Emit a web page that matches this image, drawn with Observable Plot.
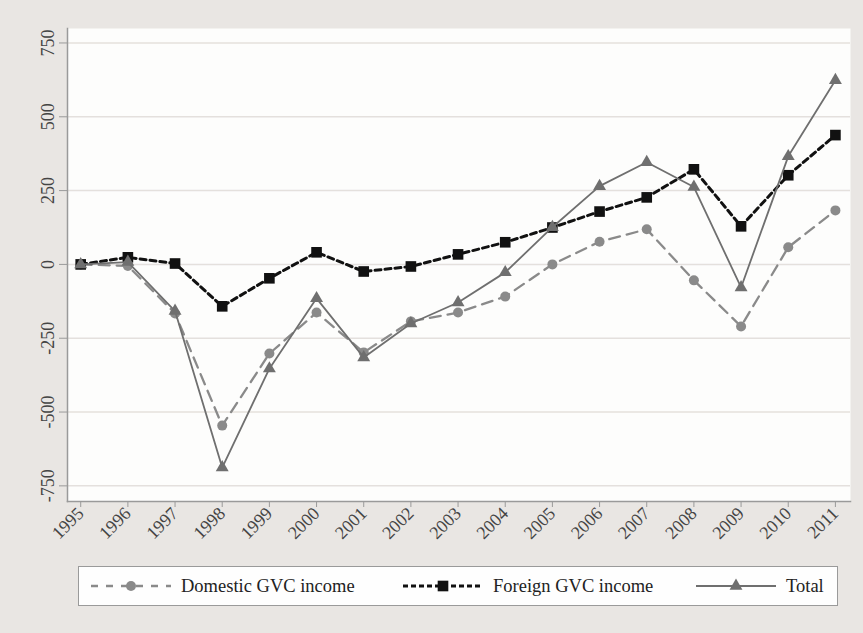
<!DOCTYPE html>
<html><head><meta charset="utf-8">
<script src="https://cdn.jsdelivr.net/npm/d3@7"></script>
<script src="https://cdn.jsdelivr.net/npm/@observablehq/plot@0.6"></script>
<style>
html,body{margin:0;padding:0;background:#e9e6e3;}
#wrap{position:relative;width:863px;height:633px;overflow:hidden;}
#wrap > svg text{font-size:18px;}
#legend{position:absolute;left:78px;top:566px;width:760px;height:40px;background:#fefefe;border:1px solid #9a9a9a;box-sizing:border-box;font-family:"Liberation Serif",serif;font-size:18.5px;color:#222;}
#legend .item{position:absolute;top:0;height:38px;display:flex;align-items:center;}
#legend svg{display:block;}
#legend span{margin-left:10px;white-space:nowrap;}
</style></head><body><div id="wrap"></div>
<script>
const years = [1995,1996,1997,1998,1999,2000,2001,2002,2003,2004,2005,2006,2007,2008,2009,2010,2011];
const domestic = [0,-5,-166,-546,-302,-163,-298,-193,-163,-109,0,77,119,-54,-210,58,183];
const foreign = [0,24,3,-142,-47,41,-24,-7,34,75,125,179,227,322,129,302,438];
const total = [0,8,-158,-688,-353,-115,-315,-200,-129,-27,126,265,346,262,-78,366,624];
const yTicks = [-750,-500,-250,0,250,500,750];
const seriesNames = ["Domestic GVC income","Foreign GVC income","Total"];

const rows = years.map((y,i)=>({year:y, domestic:domestic[i], foreign:foreign[i], total:total[i]}));
const cDom = "#8a8a8a", cFor = "#111111", cTot = "#6f6f6f";

const chart = Plot.plot({
  width: 863, height: 562,
  marginLeft: 67, marginRight: 13, marginTop: 28, marginBottom: 61,
  style: {fontFamily: "'Liberation Serif', serif", fontSize: "18px", background: "transparent", color: "#444"},
  x: {domain: [1994.72, 2011.32], label: null},
  y: {domain: [-803, 799], label: null},
  marks: [
    Plot.frame({fill: "#fdfdfc", stroke: null}),
    Plot.gridY(yTicks, {stroke: "#e4e0dd", strokeOpacity: 1, strokeWidth: 1.5}),
    Plot.frame({anchor: "left", stroke: "#9a9a9a", strokeWidth: 1.5}),
    Plot.frame({anchor: "bottom", stroke: "#9a9a9a", strokeWidth: 1.5}),
    Plot.axisY(yTicks, {tickSize: 8, tickPadding: 6, tickRotate: -90, stroke: "#9a9a9a", fill: "#444", fontSize: 18, tickFormat: d => String(d)}),
    Plot.axisX(years, {tickSize: 6, tickPadding: 3, tickRotate: -45, stroke: "#9a9a9a", fill: "#444", fontSize: 18, tickFormat: d => String(d)}),
    Plot.line(rows, {x: "year", y: "domestic", stroke: cDom, strokeWidth: 2.3, strokeDasharray: "11,7"}),
    Plot.dot(rows, {x: "year", y: "domestic", symbol: "circle", r: 5, fill: cDom}),
    Plot.line(rows, {x: "year", y: "foreign", stroke: cFor, strokeWidth: 3, strokeDasharray: "6,4"}),
    Plot.dot(rows, {x: "year", y: "foreign", symbol: "square", r: 6, fill: cFor}),
    Plot.line(rows, {x: "year", y: "total", stroke: cTot, strokeWidth: 1.8}),
    Plot.dot(rows, {x: "year", y: "total", symbol: "triangle", r: 4.8, fill: cTot})
  ]
});
const wrap = document.getElementById("wrap");
wrap.appendChild(chart);

// legend
const legend = document.createElement("div");
legend.id = "legend";
const items = [
  {name: seriesNames[0], left: 12, color: cDom, dash: "7,8", w: 2.3, sym: "circle"},
  {name: seriesNames[1], left: 324, color: cFor, dash: "5,3", w: 3, sym: "square"},
  {name: seriesNames[2], left: 617, color: cTot, dash: null, w: 1.8, sym: "triangle"}
];
for (const it of items) {
  const d = document.createElement("div");
  d.className = "item";
  d.style.left = it.left + "px";
  const s = d3.create("svg").attr("width", 80).attr("height", 20);
  s.append("line").attr("x1", 0).attr("x2", 80).attr("y1", 10).attr("y2", 10)
    .attr("stroke", it.color).attr("stroke-width", it.w).attr("stroke-dasharray", it.dash);
  const symType = it.sym === "circle" ? d3.symbolCircle : it.sym === "square" ? d3.symbolSquare : d3.symbolTriangle;
  const size = it.sym === "circle" ? Math.PI*25 : it.sym === "square" ? Math.PI*36 : Math.PI*4.8*4.8;
  s.append("path").attr("transform", "translate(40,10)").attr("d", d3.symbol(symType, size)()).attr("fill", it.color);
  d.appendChild(s.node());
  const sp = document.createElement("span");
  sp.textContent = it.name;
  d.appendChild(sp);
  legend.appendChild(d);
}
wrap.appendChild(legend);
</script>
</body></html>
